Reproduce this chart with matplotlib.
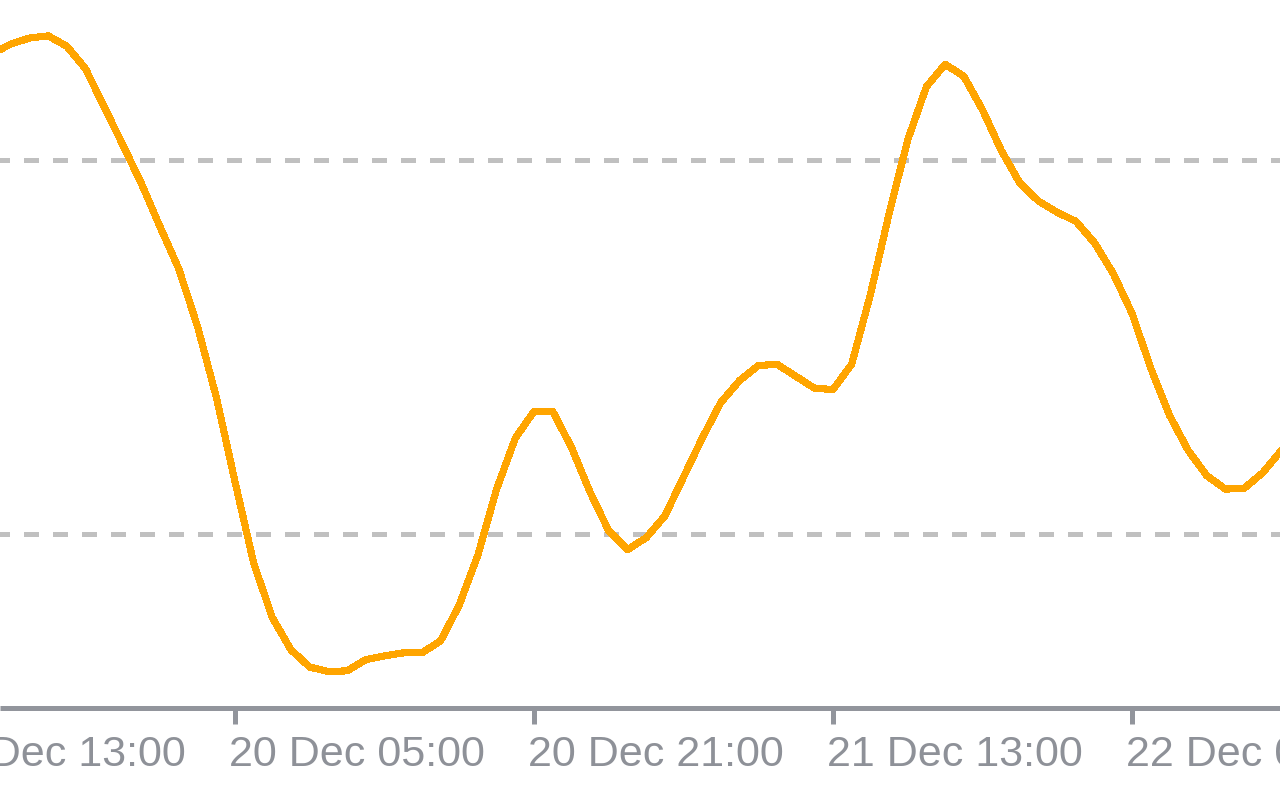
import matplotlib
matplotlib.use("Agg")
import matplotlib.pyplot as plt
import matplotlib.dates as mdates
import matplotlib.transforms as mtransforms
import pandas as pd

# ---- data (hourly values) ----
start_time = "2023-12-19 16:00"
values = [
    1.10642, 1.10655, 1.10663, 1.10666, 1.10652, 1.10622, 1.10571, 1.10520,
    1.10468, 1.10410, 1.10354, 1.10277, 1.10183, 1.10070, 1.09961, 1.09888,
    1.09845, 1.09822, 1.09816, 1.09817, 1.09832, 1.09837, 1.09841, 1.09841,
    1.09857, 1.09905, 1.09972, 1.10060, 1.10128, 1.10164, 1.10164, 1.10116,
    1.10056, 1.10004, 1.09979, 1.09995, 1.10024, 1.10076, 1.10128, 1.10176,
    1.10205, 1.10225, 1.10227, 1.10211, 1.10195, 1.10193, 1.10227, 1.10320,
    1.10428, 1.10527, 1.10598, 1.10628, 1.10612, 1.10567, 1.10513, 1.10469,
    1.10445, 1.10430, 1.10418, 1.10389, 1.10348, 1.10295, 1.10222, 1.10159,
    1.10112, 1.10078, 1.10060, 1.10061, 1.10082, 1.10112,
]
grid_levels = [1.1000, 1.1050]
tick_times = ["2023-12-19 13:00", "2023-12-20 05:00", "2023-12-20 21:00",
              "2023-12-21 13:00", "2023-12-22 05:00"]
tick_labels = ["19 Dec 13:00", "20 Dec 05:00", "20 Dec 21:00",
               "21 Dec 13:00", "22 Dec 05:00"]
view_start = "2023-12-19 16:25:30"
view_end = "2023-12-22 12:55:12"
y_range = (1.097680, 1.107139)

times = pd.date_range(start_time, periods=len(values), freq="h")

plt.rcParams["lines.scale_dashes"] = False

fig = plt.figure(figsize=(12.8, 8.0), dpi=100)
fig.patch.set_facecolor("white")
ax = fig.add_axes([0.0, 0.115625, 1.0, 0.884375])
ax.set_facecolor("white")

grid_color = "#c0c0c0"
axis_color = "#92959c"
text_color = "#8e9198"

for lvl in grid_levels:
    ax.axhline(lvl, color=grid_color, linewidth=3.6,
               linestyle=(3.6, (10.08, 10.08)), dash_capstyle="butt",
               antialiased=False, zorder=1)

ax.plot(times, values, color="#ffa500", linewidth=4.4,
        solid_joinstyle="round", solid_capstyle="round",
        antialiased=False, zorder=3)

for s in ["top", "left", "right"]:
    ax.spines[s].set_visible(False)
ax.spines["bottom"].set_color(axis_color)
ax.spines["bottom"].set_linewidth(3.6)
ax.spines["bottom"].set_capstyle("butt")

tick_ts = [pd.Timestamp(t) for t in tick_times]
ax.set_xticks(tick_ts)
ax.set_xticklabels([])
ax.tick_params(axis="x", direction="out", length=11.5, width=3.6,
               color=axis_color)
ax.set_yticks([])

# limits set after ticks so the ticks do not widen the view
ax.set_xlim(pd.Timestamp(view_start), pd.Timestamp(view_end))
ax.set_ylim(*y_range)

trans = mtransforms.blended_transform_factory(ax.transData, fig.transFigure)
trans = mtransforms.offset_copy(trans, fig=fig, x=-6, y=0, units="dots")
for t, lab in zip(tick_ts, tick_labels):
    ax.text(mdates.date2num(t), 0.043, lab, transform=trans,
            ha="left", va="baseline", fontsize=31,
            family=["Liberation Sans", "DejaVu Sans"], color=text_color,
            clip_on=False)

fig.savefig("out.png", dpi=100, facecolor="white")
